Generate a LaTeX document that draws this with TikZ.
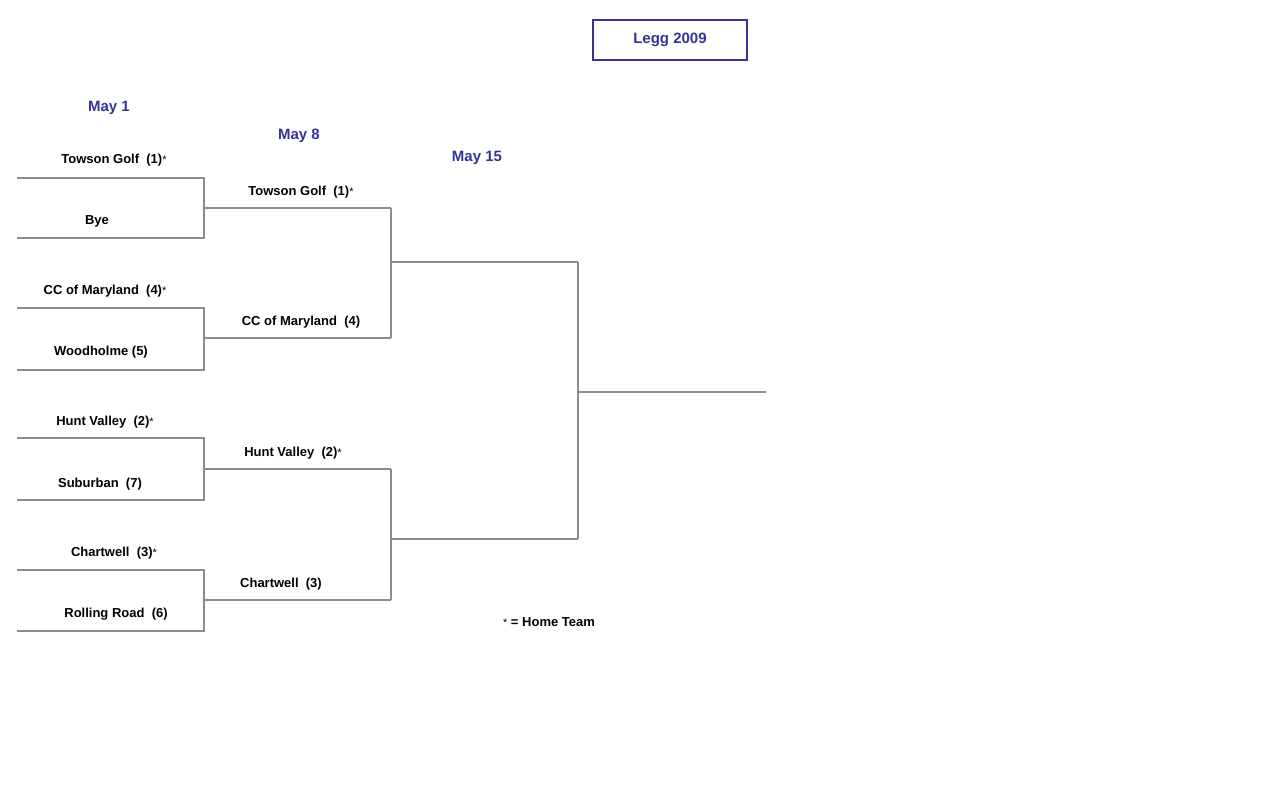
\documentclass[tikz,border=0pt]{standalone}
\usepackage{fontspec}
\setmainfont{Liberation Sans}
\definecolor{headblue}{HTML}{333399}
\definecolor{linegray}{HTML}{8C8C8C}
\newcommand{\hs}{{\mdseries\fontsize{11}{13}\selectfont *}}
\tikzset{
	team/.style={font=\bfseries\fontsize{13}{15}\selectfont,inner sep=0pt},
	date/.style={font=\bfseries\fontsize{15}{17}\selectfont,text=headblue,inner sep=0pt},
	bracket/.style={draw=linegray,line width=2.2pt},
}
\begin{document}
\begin{tikzpicture}[x=1pt,y=-1pt]
	\useasboundingbox (0,0) rectangle (1280,800);
	% title and dates
	\node[date,draw=headblue,line width=2.5pt,minimum width=154pt,minimum height=40pt] (title) at (670,40) {Legg 2009};
	\node[date] (d1) at (109,108) {May 1};
	\node[date] (d2) at (299,136) {May 8};
	\node[date] (d3) at (477,158) {May 15};
	% first round
	\node[team] (t1) at (114,160) {Towson Golf\ \ (1)\hs};
	\node[team] (t2) at (97,221) {Bye};
	\node[team] (t3) at (105,291) {CC of Maryland\ \ (4)\hs};
	\node[team] (t4) at (101,352) {Woodholme (5)};
	\node[team] (t5) at (105,422) {Hunt Valley\ \ (2)\hs};
	\node[team] (t6) at (100,484) {Suburban\ \ (7)};
	\node[team] (t7) at (114,553) {Chartwell\ \ (3)\hs};
	\node[team] (t8) at (116,614) {Rolling Road\ \ (6)};
	% second round
	\node[team] (s1) at (301,192) {Towson Golf\ \ (1)\hs};
	\node[team] (s2) at (301,322) {CC of Maryland\ \ (4)};
	\node[team] (s3) at (293,453) {Hunt Valley\ \ (2)\hs};
	\node[team] (s4) at (281,584) {Chartwell\ \ (3)};
	\node[team] (key) at (549,622) {\hs\ = Home Team};
	% bracket lines
	\foreach \ya/\yb/\yc in {178/238/208,308/370/338,438/500/469,570/631/600}
		\draw[bracket] (17,\ya) -- (204,\ya) -- (204,\yb) -- (17,\yb)
			(204,\yc) -- (391,\yc);
	\foreach \ya/\yb/\yc in {208/338/262,469/600/539}
		\draw[bracket] (391,\ya) -- (391,\yb) (391,\yc) -- (578,\yc);
	\draw[bracket] (578,262) -- (578,539) (578,392) -- (766,392);
\end{tikzpicture}
\end{document}
